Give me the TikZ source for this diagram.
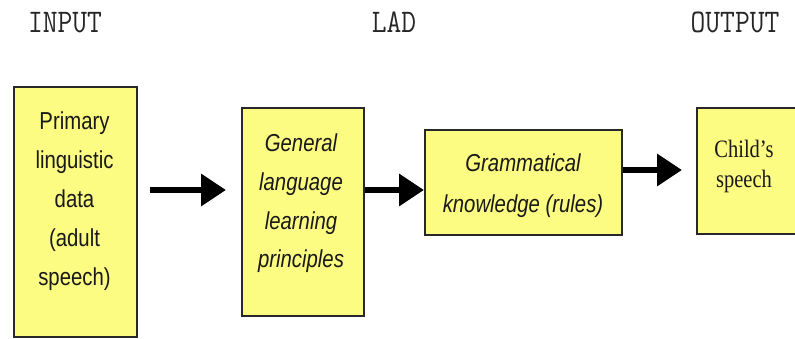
\documentclass[tikz,border=0pt]{standalone}
\usepackage{fontspec}
\usetikzlibrary{arrows.meta}
% narrowed faces for the headings and box labels
\newfontfamily\headfont[FakeStretch=0.87]{Latin Modern Mono}
\newfontfamily\labelsans[FakeStretch=0.83]{Liberation Sans}
\newfontfamily\labelserif[FakeStretch=0.82]{Liberation Serif}
\definecolor{boxfill}{RGB}{252,252,130}
\definecolor{boxline}{RGB}{40,40,40}

\begin{document}
\begin{tikzpicture}[x=1pt,y=-1pt,
  heading/.style={font=\headfont\fontsize{33}{33}\selectfont, text=black!85, inner sep=0pt, anchor=base},
  block/.style={draw=boxline, line width=1.8pt, fill=boxfill, inner sep=0pt, anchor=north west},
  blocktext/.style={inner sep=0pt, align=center, text=black!90, font=\labelsans\fontsize{24.5}{39}\selectfont},
  arr/.style={line width=6.5pt, -{Triangle[length=25pt,width=31pt]}}]
\useasboundingbox (0,0) rectangle (795,338);
\clip (0,0) rectangle (795,338);

% column headings
\node[heading] (hin)  at (65,32)  {INPUT};
\node[heading] (hlad) at (394,32) {LAD};
\node[heading] (hout) at (735,32) {OUTPUT};

% boxes
\node[block, minimum width=123pt, minimum height=250pt] (b1) at (13,86)  {};
\node[block, minimum width=122pt, minimum height=208pt] (b2) at (241,107) {};
\node[block, minimum width=197pt, minimum height=105pt] (b3) at (424,129) {};
\node[block, minimum width=110pt, minimum height=126pt] (b4) at (696,107) {};

% box labels
\node[blocktext] (t1) at (74.5,201.5) {Primary\\linguistic\\data\\(adult\\speech)};
\node[blocktext, font=\labelsans\itshape\fontsize{24.5}{38.7}\selectfont] (t2) at (301,203.5)
  {General\\language\\learning\\principles};
\node[blocktext, font=\labelsans\itshape\fontsize{24.5}{41}\selectfont] (t3) at (523,185.5)
  {Grammatical\\knowledge (rules)};
\node[blocktext, font=\labelserif\fontsize{25}{30}\selectfont] (t4) at (744,166.5)
  {Child’s\\speech};

% connectors
\coordinate (a1s) at (150,190);
\coordinate (a1e) at (226,190);
\coordinate (a3e) at (682,170);
\draw[arr] (a1s) -- (a1e);
\draw[arr] (b2.east |- 0,190) -- (b3.west |- 0,190);
\draw[arr] (b3.east |- a3e) -- (a3e);
\end{tikzpicture}
\end{document}
